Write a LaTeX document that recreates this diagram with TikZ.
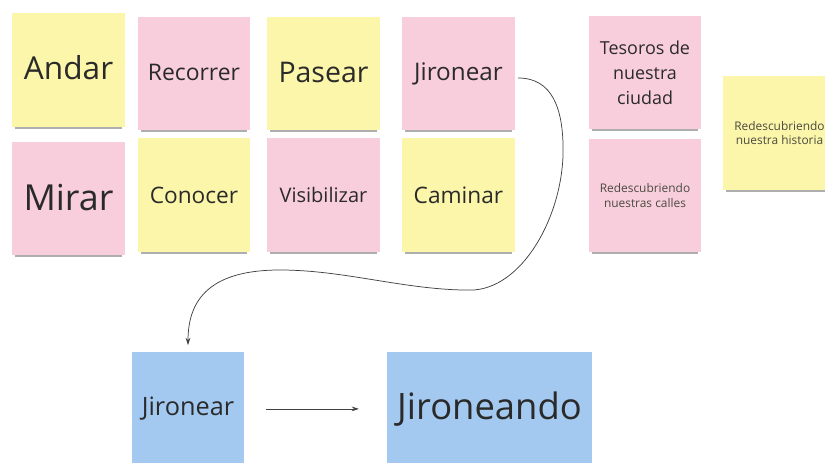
\documentclass[tikz,border=0pt]{standalone}
\usepackage{fontspec}
\setmainfont{Open Sans}
\usetikzlibrary{arrows.meta,shapes,positioning,shadows}

\definecolor{noteyellow}{HTML}{FCF6AA}
\definecolor{notepink}{HTML}{F9CEDC}
\definecolor{noteblue}{HTML}{A3C9F0}
\definecolor{notetext}{HTML}{2A2A2A}
\definecolor{smalltext}{HTML}{4A4A40}

\tikzset{
    note/.style={rectangle, minimum width=3.75cm, minimum height=3.78cm, inner sep=2pt,
        align=center, text=notetext,
        drop shadow={shadow xshift=0pt, shadow yshift=-5pt, shadow scale=.95, opacity=.45, fill=black!70}},
    yellownote/.style={note, fill=noteyellow},
    pinknote/.style={note, fill=notepink},
    bluenote/.style={rectangle, minimum width=3.75cm, minimum height=3.78cm, inner sep=2pt,
        align=center, text=notetext, fill=noteblue},
    link/.style={draw=black!75, line width=0.7pt, -{Stealth[length=7pt,width=4.5pt]}}
}
\newcommand{\notesize}[2]{\fontsize{#1}{#2}\selectfont}

\begin{document}
\begin{tikzpicture}
    \useasboundingbox (0,0) rectangle (27.5,-15.433);

    % first row of notes
    \node[yellownote, font=\notesize{30}{35}] (andar) at (2.283,-2.333) {\raisebox{4pt}{Andar}};
    \node[pinknote, font=\notesize{21.7}{26}] (recorrer) at (6.467,-2.45) {\raisebox{2pt}{Recorrer}};
    \node[yellownote, font=\notesize{27}{32}] (pasear) at (10.783,-2.45) {\raisebox{2pt}{Pasear}};
    \node[pinknote, font=\notesize{23}{28}] (jir) at (15.283,-2.45) {\raisebox{2pt}{Jironear}};

    % second row of notes
    \node[pinknote, font=\notesize{34}{40}] (mirar) at (2.283,-6.617) {\raisebox{3pt}{Mirar}};
    \node[yellownote, font=\notesize{21.5}{26}] (conocer) at (6.467,-6.5) {Conocer};
    \node[pinknote, font=\notesize{19}{23}] (visib) at (10.783,-6.5) {Visibilizar};
    \node[yellownote, font=\notesize{21.5}{26}] (caminar) at (15.283,-6.5) {Caminar};

    % notes on the right
    \node[pinknote, font=\notesize{17}{23.5}] (tesoros) at (21.5,-2.417) {Tesoros de\\nuestra\\ciudad};
    \node[pinknote, font=\notesize{11.3}{14}, text=smalltext] (calles) at (21.5,-6.517) {Redescubriendo\\nuestras calles};
    \node[yellownote, font=\notesize{11.3}{14}, text=smalltext] (historia) at (25.983,-4.433) {Redescubriendo\\nuestra historia};

    % blue notes at the bottom
    \node[bluenote, font=\notesize{24}{28}] (bj) at (6.267,-13.63) {Jironear};
    \node[bluenote, minimum width=6.83cm, font=\notesize{34.5}{40}] (bjd) at (16.317,-13.63) {Jironeando};

    % curved link from Jironear down to the blue note
    \coordinate (jstart) at (17.27,-2.6);
    \draw[link] (jstart) .. controls (18.4,-2.6) and (18.77,-3.6) .. (18.77,-5.0)
        .. controls (18.77,-7.2) and (17.4,-9.67) .. (15.67,-9.67)
        .. controls (13.5,-9.67) and (11.5,-9.0) .. (9.33,-9.0)
        .. controls (7.1,-9.0) and (6.267,-9.9) .. ([yshift=0.23cm]bj.north);

    % straight link between the blue notes
    \draw[link, shorten <=0.73cm, shorten >=0.93cm] (bj.east) -- (bjd.west);
\end{tikzpicture}
\end{document}
